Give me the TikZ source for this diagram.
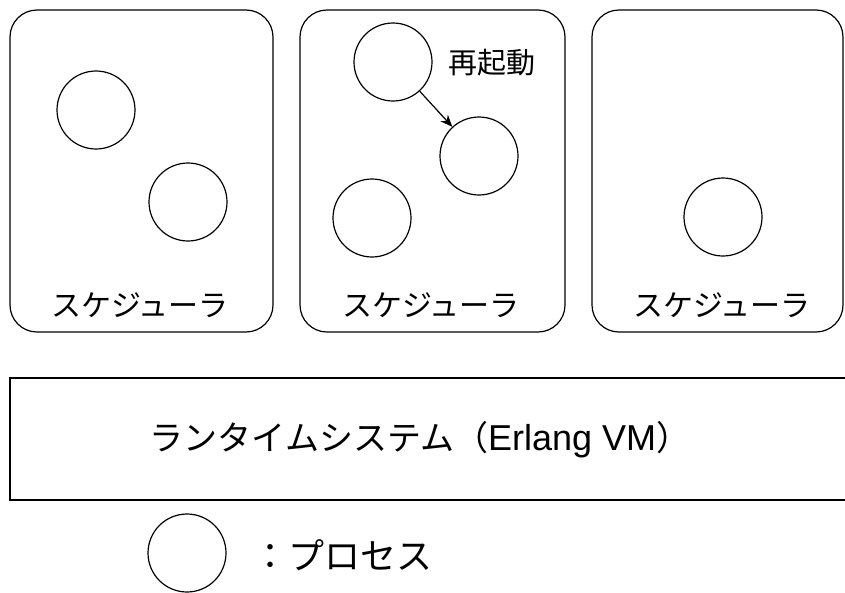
\documentclass[tikz,border=0pt]{standalone}
\usepackage{fontspec}
\newfontfamily\jp{Noto Sans CJK JP}
\newfontfamily\lat{Liberation Sans}
\usetikzlibrary{arrows.meta}
\begin{document}
\begin{tikzpicture}[x=1pt,y=-1pt,
  sched/.style={draw, rounded corners=27pt, line width=1.2pt, inner sep=0pt},
  proc/.style={draw, circle, minimum size=78pt, inner sep=0pt, line width=1.2pt},
  lbl/.style={font=\jp\fontsize{30}{32}\selectfont, inner sep=0pt},
  big/.style={font=\jp\fontsize{34}{38}\selectfont, inner sep=0pt},
  leg/.style={font=\jp\fontsize{36}{40}\selectfont, inner sep=0pt},
  rst/.style={font=\jp\fontsize{29}{32}\selectfont, inner sep=0pt}]
\clip (0,0) rectangle (845,592);
\useasboundingbox (0,0) rectangle (845,592);
% schedulers
\node[sched, minimum width=263pt, minimum height=322pt] (s1) at (141.5,171) {};
\node[sched, minimum width=265pt, minimum height=322pt] (s2) at (432.5,171) {};
\node[sched, minimum width=251pt, minimum height=322pt] (s3) at (717.5,171) {};
\node[lbl] (l1) at (140,305) {スケジューラ};
\node[lbl] (l2) at (431,305) {スケジューラ};
\node[lbl] (l3) at (722,305) {スケジューラ};
% processes
\node[proc] (p1) at (96,110) {};
\node[proc] (p2) at (188,202) {};
\node[proc] (p3) at (393,62) {};
\node[proc] (p4) at (479,156) {};
\node[proc] (p5) at (372,218) {};
\node[proc] (p6) at (723,217) {};
\draw[line width=1.2pt, -{Stealth[length=12pt,width=10pt]}] (p3) -- (p4);
\node[rst] (restart) at (492,63) {再起動};
% runtime
\node[draw, line width=1.2pt, minimum width=860pt, minimum height=122pt, inner sep=0pt] (rt) at (440,439) {};
\node[big] (rtl) at (420,440) {ランタイムシステム（{\lat\fontsize{36}{38}\selectfont Erlang VM}）};
% legend
\node[proc] (lp) at (187,553) {};
\node[leg, anchor=west] (lt) at (252,555) {：プロセス};
\end{tikzpicture}
\end{document}
